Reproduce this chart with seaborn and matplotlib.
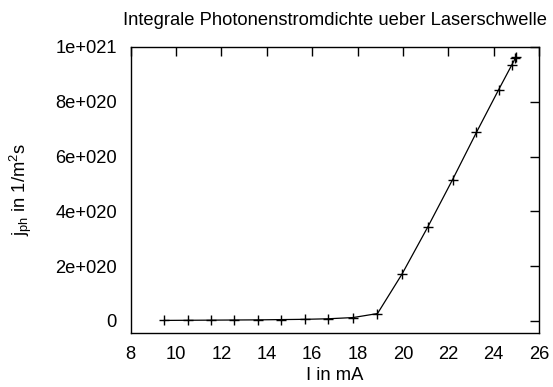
import matplotlib
matplotlib.use("Agg")
import matplotlib.pyplot as plt
import seaborn as sns
import pandas as pd

current_mA = [9.47, 10.54, 11.55, 12.57, 13.6, 14.63, 15.69, 16.72, 17.8, 18.88,
              19.96, 21.09, 22.19, 23.24, 24.22, 24.81, 24.95, 25.0]
j_ph = [0.2e19, 0.25e19, 0.3e19, 0.35e19, 0.4e19, 0.5e19, 0.6e19, 0.8e19, 1.24e19, 2.7e19,
        1.71e20, 3.42e20, 5.16e20, 6.88e20, 8.44e20, 9.36e20, 9.58e20, 9.64e20]

x_ticks = [8, 10, 12, 14, 16, 18, 20, 22, 24, 26]
y_ticks = [0, 2e20, 4e20, 6e20, 8e20, 1e21]
y_tick_labels = ["0", "2e+020", "4e+020", "6e+020", "8e+020", "1e+021"]

title = "Integrale Photonenstromdichte ueber Laserschwelle"
xlabel = "I in mA"
ylabel = r"$\mathregular{j_{ph}}$ in 1/m$\mathregular{^2}$s"

sns.set_theme(style="white")
plt.rcParams["font.family"] = ["Liberation Sans", "DejaVu Sans"]
plt.rcParams["mathtext.fontset"] = "custom"
plt.rcParams["mathtext.rm"] = "Liberation Sans"
plt.rcParams["mathtext.it"] = "Liberation Sans"
plt.rcParams["mathtext.default"] = "regular"

df = pd.DataFrame({"I": current_mA, "j": j_ph})

fig = plt.figure(figsize=(5.53, 3.87), dpi=100)
ax = fig.add_axes([0.2363, 0.1395, 0.7384, 0.7391])
sns.lineplot(data=df, x="I", y="j", ax=ax, color="black", linewidth=0.9,
             marker="+", markersize=6.5, markeredgewidth=1.0, markeredgecolor="black",
             sort=False)

ax.set_xlim(8, 26)
ax.set_ylim(-4.4e19, 1e21)
ax.set_xticks(x_ticks)
ax.set_xticklabels([str(t) for t in x_ticks])
ax.set_yticks(y_ticks)
ax.set_yticklabels(y_tick_labels)

fs = 13.2
ax.tick_params(direction="in", length=6.5, width=1, top=True, right=True,
               labelsize=fs, colors="black", pad=9)
ax.tick_params(axis="y", pad=10)
for s in ax.spines.values():
    s.set_color("black")
    s.set_linewidth(1)

ax.set_title(title, fontsize=fs, color="black", pad=16)
ax.set_xlabel(xlabel, fontsize=fs, color="black", labelpad=3)
ax.set_ylabel(ylabel, fontsize=fs, color="black", labelpad=15)

fig.savefig("out.png", dpi=100)
